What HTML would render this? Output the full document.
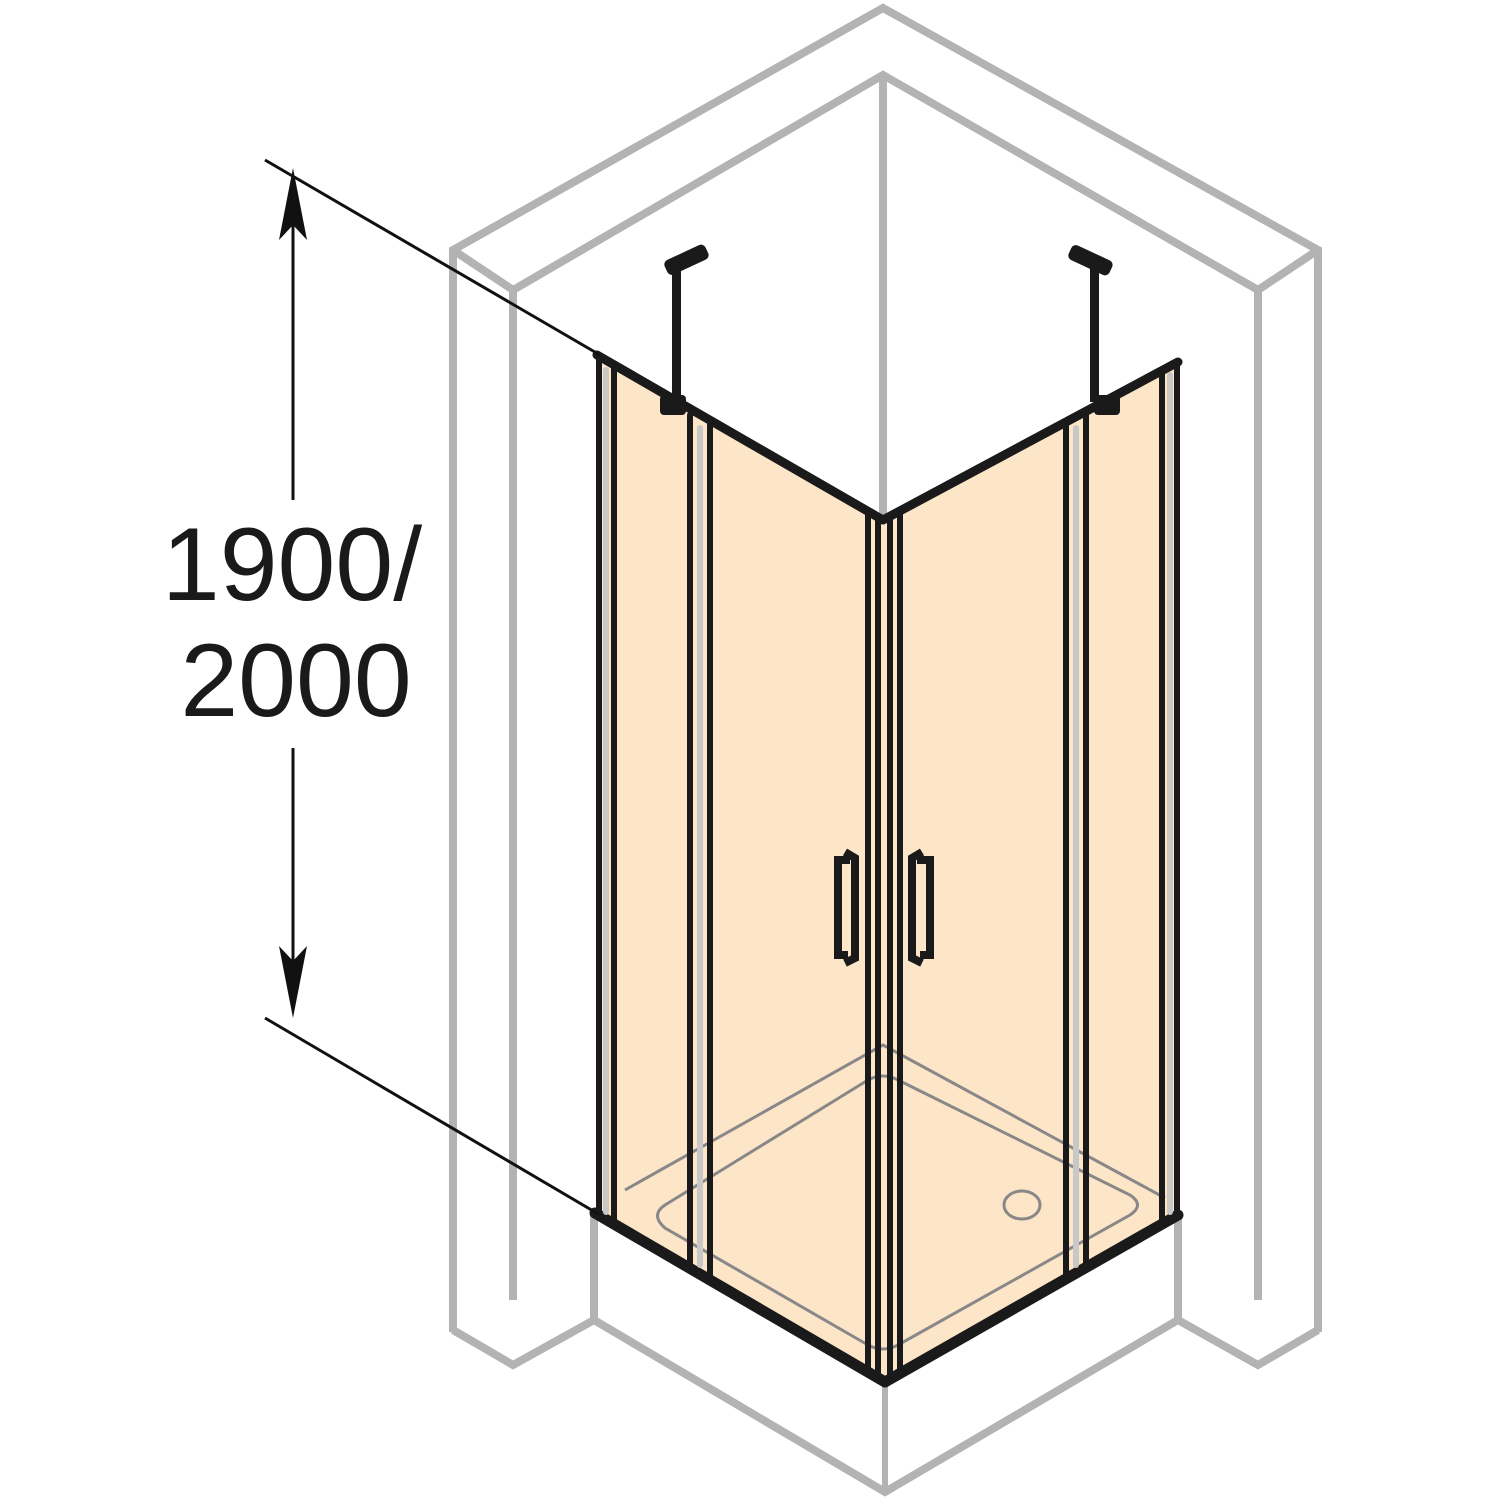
<!DOCTYPE html>
<html><head><meta charset="utf-8"><style>html,body{margin:0;padding:0;background:#fff}svg{display:block}</style></head>
<body>
<svg width="1500" height="1500" viewBox="0 0 1500 1500">
<g fill="none" stroke="#b3b3b3" stroke-width="8" stroke-linejoin="miter">
  <polyline points="453,1332 453,250 883,8 1318,250 1318,1332"/>
  <polyline points="513,1300 513,290 883,75 1258,290 1258,1300"/>
  <line x1="453" y1="250" x2="513" y2="290"/>
  <line x1="1318" y1="250" x2="1258" y2="290"/>
  <line x1="883" y1="75" x2="883" y2="520"/>
  <polyline points="453,1330 513,1365 594,1320"/>
  <polyline points="1318,1330 1258,1365 1178,1320"/>
  <polyline points="594,1215 594,1320 885,1492 1178,1320 1178,1215"/>
  <line x1="885" y1="1380" x2="885" y2="1490" stroke-width="6"/>
</g>
<g fill="#fde5c8" stroke="none">
  <polygon points="600,362 883,522 883,1380 600,1215"/>
  <polygon points="883,522 1175,365 1175,1215 883,1380"/>
</g>
<g fill="none" stroke="#888" stroke-width="3">
  <polyline points="625,1190 883,1045 1165,1198"/>
  <path d="M665,1205 Q650,1215 665,1228 L868,1345 Q883,1353 898,1345 L1130,1215 Q1145,1205 1130,1195 L898,1080 Q883,1072 868,1080 Z"/>
  <ellipse cx="1022" cy="1205" rx="18" ry="14"/>
</g>
<g stroke="#1a1a1a" fill="none" stroke-linecap="round" stroke-linejoin="round">
  <polyline points="597,355 883,520 1178,362" stroke-width="9"/>
  <polyline points="595,1213 885,1382 1178,1215" stroke-width="11"/>
  <g stroke-width="6">
    <line x1="599" y1="358" x2="599" y2="1215"/><line x1="614" y1="366" x2="614" y2="1223"/>
    <line x1="690" y1="415" x2="690" y2="1267"/><line x1="710" y1="425" x2="710" y2="1279"/>
    <line x1="868" y1="515" x2="868" y2="1372"/><line x1="878" y1="520" x2="878" y2="1378"/>
    <line x1="890" y1="520" x2="890" y2="1378"/><line x1="900" y1="515" x2="900" y2="1372"/>
    <line x1="1066" y1="425" x2="1066" y2="1278"/><line x1="1086" y1="415" x2="1086" y2="1267"/>
    <line x1="1162" y1="372" x2="1162" y2="1222"/><line x1="1177" y1="362" x2="1177" y2="1215"/>
  </g>
  <g stroke="#c8c8c8" stroke-width="6">
    <line x1="606" y1="370" x2="606" y2="1212"/><line x1="700" y1="428" x2="700" y2="1265"/>
    <line x1="1076" y1="428" x2="1076" y2="1265"/><line x1="1170" y1="375" x2="1170" y2="1212"/>
  </g>
</g>
<g fill="#1a1a1a">
  <rect x="664" y="252" width="45" height="16" rx="5" transform="rotate(-25 686 260)"/>
  <rect x="672" y="262" width="9" height="140"/>
  <rect x="660" y="395" width="26" height="20" rx="4"/>
  <rect x="1068" y="252" width="45" height="16" rx="5" transform="rotate(25 1090 260)"/>
  <rect x="1090" y="262" width="9" height="140"/>
  <rect x="1094" y="395" width="26" height="20" rx="4"/>
</g>
<g fill="none" stroke="#1a1a1a" stroke-width="8">
  <path d="M845,852 L855,858 L855,958 L845,963 M850,860 L838,860 L838,955 L848,955"/>
  <path d="M922,852 L912,858 L912,958 L922,963 M917,860 L930,860 L930,955 L920,955"/>
</g>
<g stroke="#111" stroke-width="3" fill="#111">
  <line x1="265" y1="160" x2="600" y2="355"/>
  <line x1="265" y1="1018" x2="600" y2="1215"/>
  <line x1="293" y1="185" x2="293" y2="500"/>
  <line x1="293" y1="748" x2="293" y2="1000"/>
  <polygon points="293,168 279,240 293,225 307,240" stroke="none"/>
  <polygon points="293,1018 279,946 293,961 307,946" stroke="none"/>
</g>
<text x="292" y="600" text-anchor="middle" font-family="Liberation Sans, sans-serif" font-size="104" fill="#1a1a1a">1900/</text>
<text x="296" y="716" text-anchor="middle" font-family="Liberation Sans, sans-serif" font-size="104" fill="#1a1a1a">2000</text>
</svg>
</body></html>
